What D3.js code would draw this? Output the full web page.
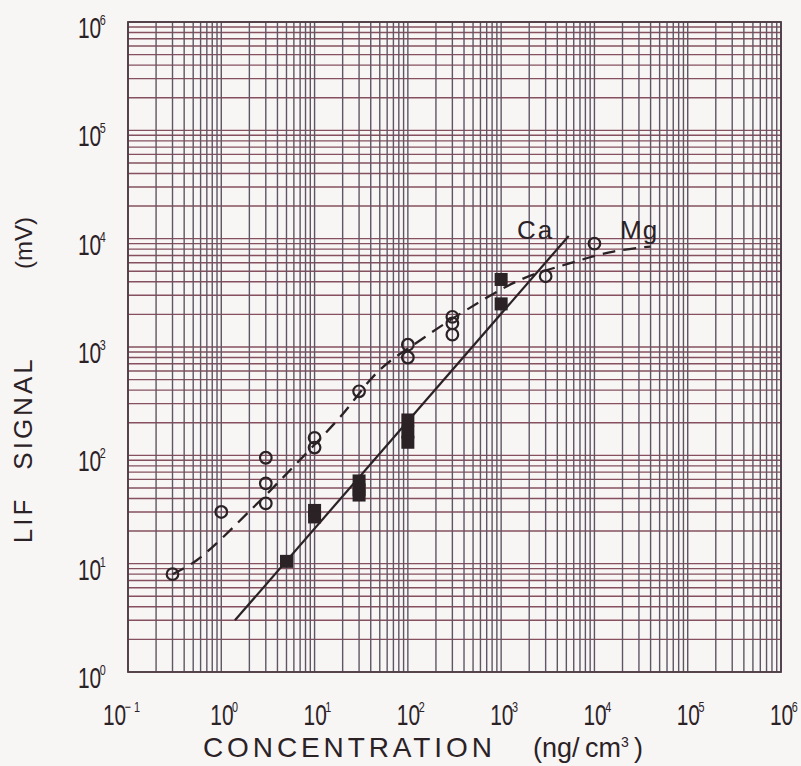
<!DOCTYPE html>
<html>
<head>
<meta charset="utf-8">
<script src="https://cdn.jsdelivr.net/npm/d3@7"></script>
<style>
  body { margin: 0; background: #f8f5f5; }
  svg { display: block; }
</style>
</head>
<body>
<div class="chart-frame"></div>
<script>
// exponents of the labelled decades
var xExponents = [-1, 0, 1, 2, 3, 4, 5, 6];
var yExponents = [0, 1, 2, 3, 4, 5, 6];

// Ca (filled squares)
var caConc   = [5, 10, 10, 30, 30, 30, 100, 100, 100, 1000, 1000];
var caSignal = [10.5, 31, 27, 58, 48, 43, 212, 164, 132, 4200, 2500];
// Ca fitted line (end points)
var caFitConc   = [1.4, 5300];
var caFitSignal = [3.0, 10600];

// Mg (open circles)
var mgConc   = [0.3, 1, 3, 3, 3, 10, 10, 30, 100, 100, 300, 300, 300, 3000, 10000];
var mgSignal = [8, 30, 95, 55, 36, 145, 118, 390, 1050, 800, 1900, 1650, 1300, 4500, 9000];
// Mg dashed curve
var mgCurveConc   = [0.3, 0.55, 2.2, 7, 19, 50, 146, 425, 1600, 5500, 16000, 40000];
var mgCurveSignal = [8, 10.8, 33, 91, 228, 615, 1205, 2200, 4170, 5940, 7600, 8460];

var W = 801, H = 766;
var plotL = 128, plotR = 781, plotT = 22, plotB = 672;
var ink = "#2b2226";
var font = "'Liberation Sans', Arial, sans-serif";

var svg = d3.select(".chart-frame")
    .append("svg")
    .attr("width", W)
    .attr("height", H)
    .style("background", "#f8f5f5");

var x = d3.scaleLog().domain([0.1, 1e6]).range([plotL, plotR]);
var y = d3.scaleLog().domain([1, 1e6]).range([plotB, plotT]);

// log paper grid
var grid = svg.append("g");
grid.selectAll(".hline")
    .data(y.ticks())
    .join("line")
    .attr("x1", plotL).attr("x2", plotR)
    .attr("y1", d => y(d))
    .attr("y2", d => y(d))
    .attr("stroke", "#86505e")
    .attr("stroke-width", 1.4);

grid.selectAll(".vline")
    .data(x.ticks())
    .join("line")
    .attr("y1", plotT).attr("y2", plotB)
    .attr("x1", d => x(d))
    .attr("x2", d => x(d))
    .attr("stroke", "#5f5664")
    .attr("stroke-width", 1.4);

grid.append("rect")
    .attr("x", plotL).attr("y", plotT)
    .attr("width", plotR - plotL)
    .attr("height", plotB - plotT)
    .attr("fill", "none")
    .attr("stroke", "#4e3e46")
    .attr("stroke-width", 1.8);

// tick labels, squeezed horizontally like the original lettering
function powerLabel(sel) {
    sel.style("font-family", font)
        .style("font-size", "29px")
        .style("fill", ink);
    sel.append("tspan").text("10");
    sel.append("tspan")
        .attr("dy", -13)
        .attr("dx", -2)
        .style("font-size", "15px")
        .text(d => d < 0 ? "\u2212 1" : d);
}

svg.selectAll(".xlab")
    .data(xExponents)
    .join("text")
    .attr("transform", d => "translate(" + (x(Math.pow(10, d)) + (d < 0 ? -25 : -11)) + ",725) scale(0.72,1)")
    .call(powerLabel);

svg.selectAll(".ylab")
    .data(yExponents)
    .join("text")
    .attr("transform", d => "translate(78," + (y(Math.pow(10, d)) + 16) + ") scale(0.72,1)")
    .call(powerLabel);

// axis titles
svg.append("text")
    .attr("x", 203)
    .attr("y", 757)
    .style("font-family", font)
    .style("font-size", "28px")
    .style("letter-spacing", "3.9px")
    .style("fill", ink)
    .text("CONCENTRATION");

var unit = svg.append("text")
    .attr("x", 533)
    .attr("y", 757)
    .style("font-family", font)
    .style("font-size", "27px")
    .style("fill", ink);
unit.append("tspan").text("(ng/\u2009cm");
unit.append("tspan").attr("dy", -10).style("font-size", "14px").text("3");
unit.append("tspan").attr("dy", 10).text("\u2009)");

var yTitle = [["LIF", 520], ["SIGNAL", 413], ["(mV)", 243]];
svg.selectAll(".ytitle")
    .data(yTitle)
    .join("text")
    .attr("transform", d => "translate(32," + d[1] + ") rotate(-90)")
    .attr("text-anchor", "middle")
    .style("font-family", font)
    .style("font-size", d => d[0] == "(mV)" ? "24px" : "26px")
    .style("letter-spacing", d => d[0] == "(mV)" ? "0px" : "3px")
    .style("fill", ink)
    .text(d => d[0]);

// Ca fitted line
var caFit = d3.range(caFitConc.length).map(i => [caFitConc[i], caFitSignal[i]]);
svg.append("path")
    .datum(caFit)
    .attr("d", d3.line().x(d => x(d[0])).y(d => y(d[1])))
    .attr("fill", "none")
    .attr("stroke", ink)
    .attr("stroke-width", 2.2);

// Mg dashed curve
var mgCurve = d3.range(mgCurveConc.length).map(i => [mgCurveConc[i], mgCurveSignal[i]]);
svg.append("path")
    .datum(mgCurve)
    .attr("d", d3.line().x(d => x(d[0])).y(d => y(d[1])).curve(d3.curveCatmullRom))
    .attr("fill", "none")
    .attr("stroke", ink)
    .attr("stroke-width", 2.3)
    .attr("stroke-dasharray", "13,8");

// Mg points
svg.selectAll(".mg")
    .data(d3.range(mgConc.length))
    .join("circle")
    .attr("cx", i => x(mgConc[i]))
    .attr("cy", i => y(mgSignal[i]))
    .attr("r", 5.8)
    .attr("fill", "none")
    .attr("stroke", ink)
    .attr("stroke-width", 2.2);

// Ca points
var sq = 13;
svg.selectAll(".ca")
    .data(d3.range(caConc.length))
    .join("rect")
    .attr("x", i => x(caConc[i]) - sq / 2)
    .attr("y", i => y(caSignal[i]) - sq / 2)
    .attr("width", sq)
    .attr("height", sq)
    .attr("fill", ink);

// series labels
svg.append("text")
    .attr("x", 517)
    .attr("y", 239)
    .style("font-family", font)
    .style("font-size", "26px")
    .style("letter-spacing", "2px")
    .style("fill", ink)
    .text("Ca");

svg.append("text")
    .attr("x", 620)
    .attr("y", 239)
    .style("font-family", font)
    .style("font-size", "26px")
    .style("letter-spacing", "1px")
    .style("fill", ink)
    .text("Mg");
</script>
</body>
</html>
